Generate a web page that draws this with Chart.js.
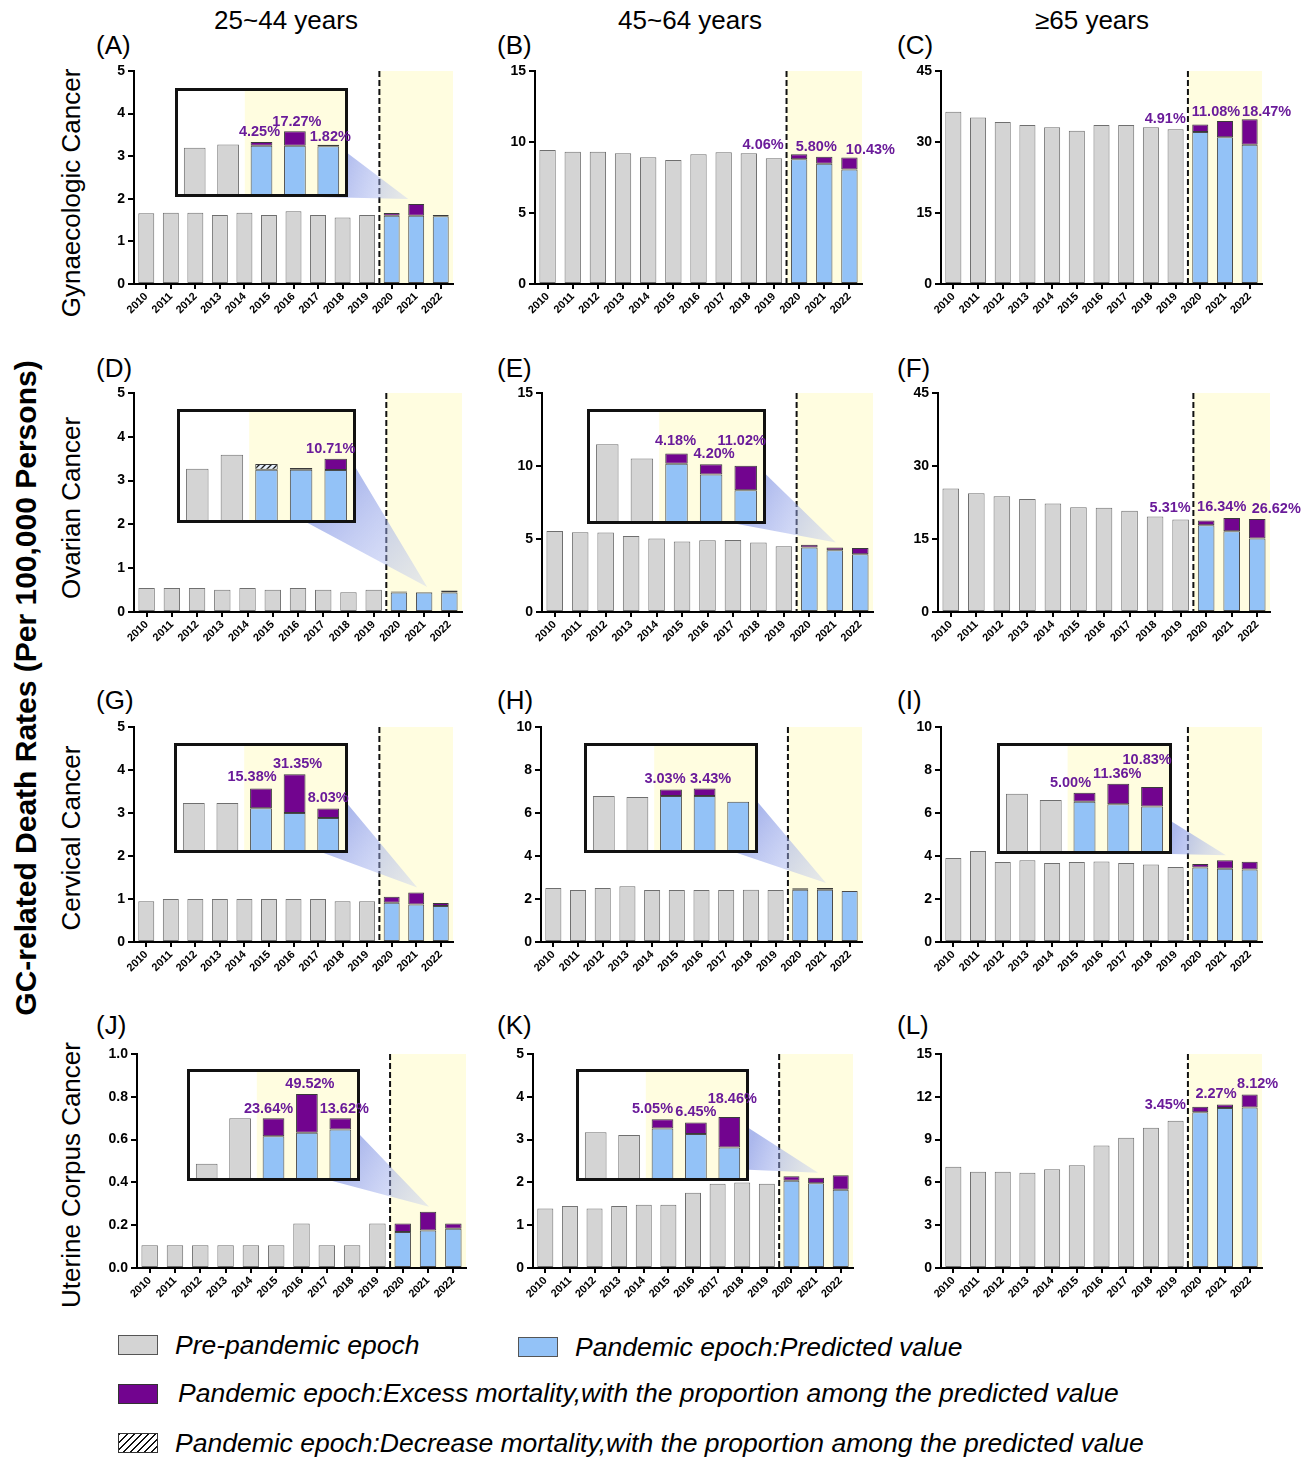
<!DOCTYPE html>
<html>
<head>
<meta charset="utf-8">
<script src="https://cdn.jsdelivr.net/npm/chart.js@4.4.1/dist/chart.umd.min.js"></script>
<style>
body { margin: 0; background: #fff; font-family: "Liberation Sans", Arial, sans-serif; }
#page { position: relative; width: 1311px; height: 1460px; overflow: hidden; background: #fff; }
.abs { position: absolute; white-space: nowrap; line-height: 1; }
.hdr { font-size: 26px; transform: translate(-50%, -50%); }
.tag { font-size: 26px; transform: translateY(-50%); }
.rot { font-size: 26px; transform: translate(-50%, -50%) rotate(-90deg); }
.big { font-size: 30px; font-weight: bold; transform: translate(-50%, -50%) rotate(-90deg); }
.lbox { position: absolute; width: 40px; height: 20px; box-sizing: border-box; border: 1px solid #333; }
.ltxt { position: absolute; font-size: 26.5px; font-style: italic; transform: translateY(-50%); white-space: nowrap; line-height: 1; }
</style>
</head>
<body>
<div id="page"></div>
<script>
var years = ['2010', '2011', '2012', '2013', '2014', '2015', '2016', '2017', '2018', '2019', '2020', '2021', '2022'];

// (A) Gynaecologic 25~44
var preA = [1.66, 1.67, 1.67, 1.62, 1.67, 1.62, 1.71, 1.62, 1.56, 1.62];
var predA = [1.60, 1.60, 1.59];
var obsA = [1.668, 1.876, 1.619];
var pctA = ['4.25%', '17.27%', '1.82%'];
// (B) Gynaecologic 45~64
var preB = [9.44, 9.32, 9.32, 9.20, 8.92, 8.73, 9.13, 9.27, 9.20, 8.85];
var predB = [8.78, 8.47, 8.06];
var obsB = [9.14, 8.96, 8.90];
var pctB = ['4.06%', '5.80%', '10.43%'];
// (C) Gynaecologic >=65
var preC = [36.4, 35.2, 34.2, 33.6, 33.1, 32.4, 33.6, 33.6, 33.1, 32.7];
var predC = [32.1, 31.0, 29.4];
var obsC = [33.68, 34.43, 34.83];
var pctC = ['4.91%', '11.08%', '18.47%'];
// (D) Ovarian 25~44
var preD = [0.55, 0.55, 0.55, 0.51, 0.55, 0.51, 0.55, 0.51, 0.45, 0.51];
var predD = [0.47, 0.454, 0.445];
var obsD = [0.446, 0.446, 0.493];
var pctD = [null, null, '10.71%'];
// (E) Ovarian 45~64
var preE = [5.55, 5.46, 5.44, 5.21, 5.03, 4.83, 4.92, 4.94, 4.76, 4.51];
var predE = [4.42, 4.23, 3.95];
var obsE = [4.60, 4.41, 4.385];
var pctE = ['4.18%', '4.20%', '11.02%'];
// (F) Ovarian >=65
var preF = [25.4, 24.4, 23.8, 23.2, 22.3, 21.5, 21.4, 20.8, 19.6, 19.0];
var predF = [17.85, 16.6, 15.1];
var obsF = [18.8, 19.31, 19.12];
var pctF = ['5.31%', '16.34%', '26.62%'];
// (G) Cervical 25~44
var preG = [0.946, 1.0, 1.0, 1.0, 1.0, 1.0, 1.0, 1.0, 0.946, 0.946];
var predG = [0.91, 0.875, 0.84];
var obsG = [1.05, 1.15, 0.907];
var pctG = ['15.38%', '31.35%', '8.03%'];
// (H) Cervical 45~64
var preH = [2.51, 2.42, 2.51, 2.59, 2.42, 2.42, 2.42, 2.42, 2.43, 2.42];
var predH = [2.43, 2.43, 2.37];
var obsH = [2.50, 2.51, 2.37];
var pctH = ['3.03%', '3.43%', null];
// (I) Cervical >=65
var preI = [3.91, 4.23, 3.72, 3.80, 3.67, 3.72, 3.75, 3.67, 3.61, 3.49];
var predI = [3.46, 3.41, 3.37];
var obsI = [3.63, 3.80, 3.735];
var pctI = ['5.00%', '11.36%', '10.83%'];
// (J) Uterine corpus 25~44
var preJ = [0.106, 0.106, 0.106, 0.106, 0.106, 0.106, 0.208, 0.106, 0.106, 0.208];
var predJ = [0.168, 0.1755, 0.183];
var obsJ = [0.208, 0.2625, 0.208];
var pctJ = ['23.64%', '49.52%', '13.62%'];
// (K) Uterine corpus 45~64
var preK = [1.39, 1.45, 1.39, 1.45, 1.48, 1.48, 1.76, 1.97, 2.00, 1.97];
var predK = [2.04, 1.98, 1.83];
var obsK = [2.143, 2.108, 2.168];
var pctK = ['5.05%', '6.45%', '18.46%'];
// (L) Uterine corpus >=65
var preL = [7.09, 6.74, 6.74, 6.67, 6.93, 7.21, 8.59, 9.13, 9.83, 10.32];
var predL = [10.92, 11.21, 11.25];
var obsL = [11.30, 11.46, 12.16];
var pctL = ['3.45%', '2.27%', '8.12%'];

var colHeaders = ['25~44 years', '45~64 years', '\u226565 years'];
var rowHeaders = ['Gynaecologic Cancer', 'Ovarian Cancer', 'Cervical Cancer', 'Uterine Corpus Cancer'];
var yTitle = 'GC-related Death Rates (Per 100,000 Persons)';

// layout: plot = [left, top, right, bottom] of the axis box in page pixels
var panels = [
    { tag: '(A)', pre: preA, pred: predA, obs: obsA, pct: pctA, plot: [134, 71, 453, 284], yMax: 5, step: 1,
      inset: { box: [175, 88, 173, 109], yMin: 0.666, yMax: 2.655, off: [[-2, -10], [2, -9], [2, -8]], a: [1, 0.6], b: [0.84, 1], dx: -8 } },
    { tag: '(B)', pre: preB, pred: predB, obs: obsB, pct: pctB, plot: [535, 71, 862, 284], yMax: 15, step: 5,
      off: [[-36, -9], [-8, -10], [21, -8]] },
    { tag: '(C)', pre: preC, pred: predC, obs: obsC, pct: pctC, plot: [941, 71, 1262, 284], yMax: 45, step: 15,
      off: [[-35, -6], [-9, -9], [17, -7]] },
    { tag: '(D)', pre: preD, pred: predD, obs: obsD, pct: pctD, plot: [134, 393, 462, 612], yMax: 5, step: 1,
      inset: { box: [177, 409, 179, 114], yMin: 0.234, yMax: 0.69, off: [null, null, [-5, -10]], a: [1, 0.52], b: [0.73, 1], dx: 3 } },
    { tag: '(E)', pre: preE, pred: predE, obs: obsE, pct: pctE, plot: [542, 393, 873, 612], yMax: 15, step: 5,
      inset: { box: [587, 409, 179, 115], yMin: 3.41, yMax: 5.33, off: [[-1, -12], [3, -10], [-4, -25]], a: [1, 0.57], b: [0.84, 1], dx: 1 } },
    { tag: '(F)', pre: preF, pred: predF, obs: obsF, pct: pctF, plot: [938, 393, 1270, 612], yMax: 45, step: 15,
      off: [[-36, -13], [-10, -11], [19, -10]] },
    { tag: '(G)', pre: preG, pred: predG, obs: obsG, pct: pctG, plot: [134, 727, 453, 942], yMax: 5, step: 1,
      inset: { box: [174, 743, 174, 110], yMin: 0.613, yMax: 1.351, off: [[-9, -11], [3, -10], [0, -11]], a: [1, 0.56], b: [0.86, 1], dx: 1 } },
    { tag: '(H)', pre: preH, pred: predH, obs: obsH, pct: pctH, plot: [541, 727, 862, 942], yMax: 10, step: 2,
      inset: { box: [584, 743, 174, 110], yMin: 1.86, yMax: 2.96, off: [[-6, -10], [6, -10], null], a: [1, 0.54], b: [0.88, 1], dx: 1 } },
    { tag: '(I)', pre: preI, pred: predI, obs: obsI, pct: pctI, plot: [941, 727, 1262, 942], yMax: 10, step: 2,
      inset: { box: [997, 743, 175, 111], yMin: 2.53, yMax: 4.51, off: [[-14, -10], [-1, -10], [-5, -27]], a: [1, 0.71], b: [1, 1], dx: 1 } },
    { tag: '(J)', pre: preJ, pred: predJ, obs: obsJ, pct: pctJ, plot: [137, 1054, 466, 1268], yMax: 1, step: 0.2, dec: 1,
      inset: { box: [187, 1069, 173, 112], yMin: 0.074, yMax: 0.312, off: [[-5, -9], [3, -10], [4, -9]], a: [1, 0.59], b: [0.84, 1], dx: 1 } },
    { tag: '(K)', pre: preK, pred: predK, obs: obsK, pct: pctK, plot: [533, 1054, 853, 1268], yMax: 5, step: 1,
      inset: { box: [576, 1069, 173, 112], yMin: 1.49, yMax: 2.67, off: [[-10, -10], [0, -10], [3, -18]], a: [1, 0.53], b: [1, 0.9], dx: 2 } },
    { tag: '(L)', pre: preL, pred: predL, obs: obsL, pct: pctL, plot: [941, 1054, 1262, 1268], yMax: 15, step: 3,
      off: [[-35, -2], [-9, -11], [8, -11]] }
];

var GRAY = '#d4d4d4', BLUE = '#93c2f7', PURPLE = '#72048f', SHADE = '#fffde0', TEXT_PURPLE = '#6a1b9a';
var FONT = '"Liberation Sans", Arial, sans-serif';
Chart.defaults.font.family = FONT;

var page = document.getElementById('page');

function addDiv(cls, text, left, top) {
    var d = document.createElement('div');
    d.className = 'abs ' + cls;
    d.textContent = text;
    d.style.left = left + 'px';
    d.style.top = top + 'px';
    page.appendChild(d);
    return d;
}

function hatchPattern() {
    var c = document.createElement('canvas');
    c.width = 6; c.height = 6;
    var g = c.getContext('2d');
    g.fillStyle = '#e6f0fd';
    g.fillRect(0, 0, 6, 6);
    g.strokeStyle = '#1a1a1a';
    g.lineWidth = 1.3;
    g.beginPath();
    g.moveTo(0, 6); g.lineTo(6, 0);
    g.moveTo(-3, 3); g.lineTo(3, -3);
    g.moveTo(3, 9); g.lineTo(9, 3);
    g.stroke();
    return g.createPattern(c, 'repeat');
}
var HATCH = hatchPattern();

function stackSets(pre, pred, obs) {
    var blank = pre.map(function () { return null; });
    var tail = pred.map(function () { return null; });
    var sets = [
        { data: pre.concat(tail), backgroundColor: GRAY, borderColor: '#6f6f6f' },
        { data: blank.concat(pred.map(function (p, i) { return Math.min(p, obs[i]); })), backgroundColor: BLUE, borderColor: '#4a4a4a' },
        { data: blank.concat(pred.map(function (p, i) { return obs[i] > p ? obs[i] - p : null; })), backgroundColor: PURPLE, borderColor: '#3a3a3a' },
        { data: blank.concat(pred.map(function (p, i) { return obs[i] < p ? p - obs[i] : null; })), backgroundColor: HATCH, borderColor: '#3a3a3a' }
    ];
    sets.forEach(function (d) {
        d.borderWidth = 1;
        d.borderSkipped = false;
        d.barPercentage = 0.65;
        d.categoryPercentage = 1;
        d.stack = 's';
        d.clip = 0;
    });
    return sets;
}

var deco = {
    id: 'deco',
    beforeDraw: function (chart, args, o) {
        var ctx = chart.ctx, ca = chart.chartArea, x = chart.scales.x;
        var xs = (x.getPixelForValue(o.split - 1) + x.getPixelForValue(o.split)) / 2;
        ctx.save();
        if (o.frame) {
            ctx.fillStyle = '#fff';
            ctx.fillRect(ca.left, ca.top, ca.right - ca.left, ca.bottom - ca.top);
        }
        ctx.fillStyle = SHADE;
        ctx.fillRect(xs, ca.top, ca.right - xs, ca.bottom - ca.top);
        ctx.restore();
    },
    afterDraw: function (chart, args, o) {
        var ctx = chart.ctx, ca = chart.chartArea, x = chart.scales.x, y = chart.scales.y;
        var xs = (x.getPixelForValue(o.split - 1) + x.getPixelForValue(o.split)) / 2;
        var tops = o.pred.map(function (p, i) { return Math.max(p, o.obs[i]); });
        ctx.save();
        if (o.dashed) {
            ctx.strokeStyle = '#111';
            ctx.lineWidth = 2;
            ctx.setLineDash([6, 3]);
            ctx.beginPath();
            ctx.moveTo(xs, ca.top);
            ctx.lineTo(xs, ca.bottom);
            ctx.stroke();
            ctx.setLineDash([]);
        }
        if (o.frame) {
            ctx.strokeStyle = '#111';
            ctx.lineWidth = 3;
            ctx.strokeRect(ca.left - 1.5, ca.top - 1.5, ca.right - ca.left + 3, ca.bottom - ca.top + 3);
        }
        if (o.conn) {
            var c = o.conn, bx = c.box[0] - c.cx, by = c.box[1] - c.cy, bw = c.box[2], bh = c.box[3];
            var ax = bx + c.a[0] * bw, ay = by + c.a[1] * bh;
            var qx = bx + c.b[0] * bw, qy = by + c.b[1] * bh;
            var px = x.getPixelForValue(o.split + 1) + c.dx, py = y.getPixelForValue(tops[1]) - 5;
            var grad = ctx.createLinearGradient((ax + qx) / 2, (ay + qy) / 2, px, py);
            grad.addColorStop(0, 'rgba(120,140,225,0.62)');
            grad.addColorStop(1, 'rgba(190,200,245,0.35)');
            ctx.fillStyle = grad;
            ctx.beginPath();
            ctx.moveTo(ax, ay);
            ctx.lineTo(px, py);
            ctx.lineTo(qx, qy);
            ctx.lineTo(bx + bw, by + bh);
            ctx.closePath();
            ctx.fill();
        }
        if (o.off) {
            ctx.fillStyle = TEXT_PURPLE;
            ctx.font = 'bold 14.5px ' + FONT;
            ctx.textAlign = 'center';
            ctx.textBaseline = 'middle';
            o.pct.forEach(function (t, i) {
                if (!t || !o.off[i]) return;
                var bxp = x.getPixelForValue(o.split + i) + o.off[i][0];
                var byp = y.getPixelForValue(tops[i]) + o.off[i][1];
                ctx.fillText(t, bxp, byp);
            });
        }
        ctx.restore();
    }
};

function makeCanvas(w, h, left, top, z) {
    var cv = document.createElement('canvas');
    cv.width = w; cv.height = h;
    cv.style.width = w + 'px'; cv.style.height = h + 'px';
    cv.style.position = 'absolute';
    cv.style.left = left + 'px';
    cv.style.top = top + 'px';
    cv.style.zIndex = z || 1;
    page.appendChild(cv);
    return cv;
}

var PAD_L = 45, PAD_T = 12, PAD_R = 45, PAD_B = 45;
var IN_T = 30, IN_R = 30;

panels.forEach(function (p) {
    var l = p.plot[0], t = p.plot[1], r = p.plot[2], b = p.plot[3];
    var cx = l - PAD_L, cy = t - PAD_T;
    var w = (r - l) + PAD_L + PAD_R, h = (b - t) + PAD_T + PAD_B;
    var cv = makeCanvas(w, h, cx, cy, 1);
    var ins = p.inset;
    new Chart(cv, {
        type: 'bar',
        data: { labels: years, datasets: stackSets(p.pre, p.pred, p.obs) },
        options: {
            responsive: false, animation: false, devicePixelRatio: 1,
            layout: { padding: { left: 0, top: PAD_T, right: PAD_R, bottom: 0 } },
            plugins: {
                legend: { display: false }, tooltip: { enabled: false },
                deco: {
                    split: p.pre.length, dashed: true, frame: false, pred: p.pred, obs: p.obs, pct: p.pct, off: p.off || null,
                    conn: ins ? { box: ins.box, a: ins.a, b: ins.b, dx: ins.dx, cx: cx, cy: cy } : null
                }
            },
            scales: {
                x: {
                    stacked: true, offset: true,
                    grid: { drawOnChartArea: false, offset: false, color: '#000', lineWidth: 2, tickLength: 5 },
                    border: { color: '#000', width: 2 },
                    ticks: { autoSkip: false, maxRotation: 45, minRotation: 45, padding: 1, color: '#000', font: { size: 11, weight: 'bold' } },
                    afterFit: function (s) { s.height = PAD_B; s.paddingLeft = 0; s.paddingRight = 0; }
                },
                y: {
                    stacked: true, min: 0, max: p.yMax,
                    grid: { drawOnChartArea: false, color: '#000', lineWidth: 2, tickLength: 6 },
                    border: { color: '#000', width: 2 },
                    ticks: {
                        stepSize: p.step, padding: 3, color: '#000', font: { size: 14, weight: 'bold' },
                        callback: function (v) { return p.dec ? Number(v).toFixed(p.dec) : v; }
                    },
                    afterFit: function (s) { s.width = PAD_L; }
                }
            }
        },
        plugins: [deco]
    });

    if (ins) {
        // inset canvas is a bit larger than its frame so labels can spill out
        var iw = ins.box[2] + IN_R, ih = ins.box[3] + IN_T;
        var icv = makeCanvas(iw, ih, ins.box[0], ins.box[1] - IN_T, 5);
        new Chart(icv, {
            type: 'bar',
            data: { labels: years.slice(8), datasets: stackSets(p.pre.slice(8), p.pred, p.obs) },
            options: {
                responsive: false, animation: false, devicePixelRatio: 1,
                layout: { padding: { left: 3, top: IN_T + 3, right: IN_R + 3, bottom: 3 } },
                plugins: {
                    legend: { display: false }, tooltip: { enabled: false },
                    deco: { split: 2, dashed: false, frame: true, pred: p.pred, obs: p.obs, pct: p.pct, off: ins.off, conn: null }
                },
                scales: {
                    x: { display: false, stacked: true, offset: true },
                    y: { display: false, stacked: true, min: ins.yMin, max: ins.yMax }
                }
            },
            plugins: [deco]
        });
    }
});

// headers and labels
[286, 690, 1092].forEach(function (x, i) { addDiv('hdr', colHeaders[i], x, 20); });
[193, 508, 838, 1175].forEach(function (y, i) { addDiv('rot', rowHeaders[i], 71, y); });
addDiv('big', yTitle, 26, 688);
var tagRows = [45, 368, 700, 1025], tagCols = [96, 497, 897];
panels.forEach(function (p, i) {
    addDiv('tag', p.tag, tagCols[i % 3], tagRows[Math.floor(i / 3)]);
});

// legend
var legendItems = [
    { fill: GRAY, border: '#555', x: 118, y: 1335, tx: 175, ty: 1345, text: 'Pre-pandemic epoch' },
    { fill: BLUE, border: '#555', x: 518, y: 1337, tx: 575, ty: 1347, text: 'Pandemic epoch:Predicted value' },
    { fill: PURPLE, border: '#333', x: 118, y: 1384, tx: 178, ty: 1393, text: 'Pandemic epoch:Excess mortality,with the proportion among the predicted value' },
    { fill: 'repeating-linear-gradient(135deg, #111 0px, #111 1.4px, #fff 1.4px, #fff 5px)', border: '#333', x: 118, y: 1433, tx: 175, ty: 1443, text: 'Pandemic epoch:Decrease mortality,with the proportion among the predicted value' }
];
legendItems.forEach(function (it) {
    var bx = document.createElement('div');
    bx.className = 'lbox';
    bx.style.left = it.x + 'px';
    bx.style.top = it.y + 'px';
    bx.style.background = it.fill;
    bx.style.borderColor = it.border;
    page.appendChild(bx);
    var tx = document.createElement('div');
    tx.className = 'ltxt';
    tx.style.left = it.tx + 'px';
    tx.style.top = it.ty + 'px';
    tx.textContent = it.text;
    page.appendChild(tx);
});
</script>
</body>
</html>
